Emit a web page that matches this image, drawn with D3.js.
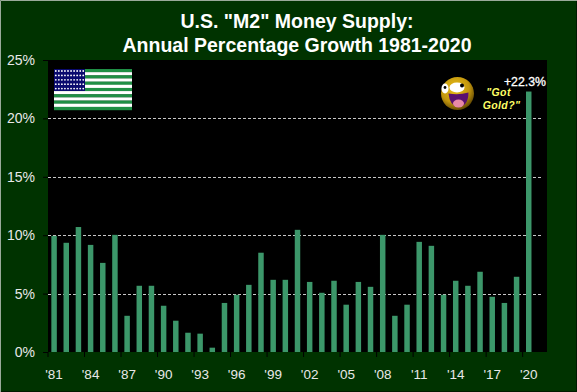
<!DOCTYPE html>
<html>
<head>
<meta charset="utf-8">
<script src="https://cdn.jsdelivr.net/npm/d3@7"></script>
<style>
html, body { margin: 0; padding: 0; background: #003300; }
svg { display: block; }
text { font-family: "Liberation Sans", Arial, sans-serif; }
</style>
</head>
<body>
<div id="chart"></div>
<script>
// The data
const titleLines = ['U.S. "M2" Money Supply:', 'Annual Percentage Growth 1981-2020'];
const years = d3.range(1981, 2022); // one empty slot after 2020, as in the original
const growth = [9.94, 9.35, 10.7, 9.17, 7.63, 10.03, 3.1, 5.67, 5.67, 3.96,
    2.68, 1.65, 1.57, 0.37, 4.2, 4.9, 5.75, 8.5, 6.18, 6.18,
    10.46, 6.0, 5.07, 6.1, 4.05, 6.0, 5.58, 10.03, 3.1, 4.05,
    9.43, 9.09, 4.9, 6.1, 5.67, 6.87, 4.73, 4.2, 6.44, 22.3];
const yTicks = [0, 5, 10, 15, 20, 25];
const xTickYears = d3.range(1981, 2021, 3);

// THE CHART
const width = 577, height = 392;
const margin = { top: 60, right: 30, bottom: 40, left: 48 };

const svg = d3.select("#chart").append("svg")
    .attr("width", width)
    .attr("height", height);

// background and outer frame, light on top/left and dark on bottom/right
svg.append("rect")
    .attr("width", width).attr("height", height)
    .attr("fill", "#003300");
svg.append("path")
    .attr("d", "M0.5," + height + "V0.5H" + width)
    .attr("fill", "none")
    .attr("stroke", "#9aaa9a");
svg.append("path")
    .attr("d", "M1," + (height - 0.5) + "H" + (width - 0.5) + "V1")
    .attr("fill", "none")
    .attr("stroke", "#001a00");

// plot area
svg.append("rect")
    .attr("x", margin.left).attr("y", margin.top)
    .attr("width", width - margin.left - margin.right)
    .attr("height", height - margin.top - margin.bottom)
    .attr("fill", "#000000");

const x = d3.scaleBand()
    .domain(years)
    .range([margin.left, width - margin.right])
    .paddingInner(0.55)
    .paddingOuter(0.275);

const y = d3.scaleLinear()
    .domain([0, 25])
    .range([height - margin.bottom, margin.top]);

// gridlines
svg.append("g").selectAll("line")
    .data(yTicks.filter(d => d > 0 && d < 25))
    .join("line")
    .attr("x1", margin.left)
    .attr("x2", width - margin.right - 4)
    .attr("y1", d => Math.round(y(d)) + 0.5)
    .attr("y2", d => Math.round(y(d)) + 0.5)
    .attr("stroke", "#c8c8c8")
    .attr("stroke-dasharray", "3,2");

// bars
svg.append("g").selectAll("rect")
    .data(growth)
    .join("rect")
    .attr("x", (d, i) => x(years[i]))
    .attr("y", d => y(d))
    .attr("width", x.bandwidth())
    .attr("height", d => y(0) - y(d))
    .attr("fill", "#3c976a");

// y axis
const yAxis = svg.append("g")
    .attr("transform", "translate(" + margin.left + ",0)")
    .call(d3.axisLeft(y).tickValues(yTicks).tickFormat(d => d + "%").tickSize(5).tickPadding(8));
yAxis.select(".domain").remove();
yAxis.selectAll("line").attr("stroke", "#000000");
yAxis.selectAll("text")
    .attr("fill", "#e8e8e8")
    .style("font-size", "14px");

// x axis, ticks sit on the left edge of each third year slot
const step = x.step();
const xAxis = svg.append("g")
    .attr("transform", "translate(0," + y(0) + ")");
xAxis.selectAll("line")
    .data(xTickYears)
    .join("line")
    .attr("x1", d => x(d) + x.bandwidth() / 2 - step / 2)
    .attr("x2", d => x(d) + x.bandwidth() / 2 - step / 2)
    .attr("y1", 0)
    .attr("y2", 5)
    .attr("stroke", "#000000");
xAxis.selectAll("text")
    .data(xTickYears)
    .join("text")
    .attr("x", d => x(d) + x.bandwidth() / 2)
    .attr("y", 27)
    .attr("text-anchor", "middle")
    .attr("fill", "#e8e8e8")
    .style("font-size", "13.5px")
    .text(d => "'" + String(d).slice(2));

// title
svg.append("g").selectAll("text")
    .data(titleLines)
    .join("text")
    .attr("x", 297)
    .attr("y", (d, i) => 28 + i * 24)
    .attr("text-anchor", "middle")
    .attr("fill", "#ffffff")
    .attr("font-weight", "bold")
    .style("font-size", "19.5px")
    .text(d => d);

// flag
const flag = svg.append("g").attr("transform", "translate(54,69)");
flag.selectAll("rect.stripe")
    .data(d3.range(13))
    .join("rect")
    .attr("class", "stripe")
    .attr("x", 0)
    .attr("y", d => d * 41 / 13)
    .attr("width", 78)
    .attr("height", 41 / 13 + 0.2)
    .attr("fill", d => d % 2 ? "#ffffff" : "#1f8f45");
flag.append("rect")
    .attr("width", 31).attr("height", 22)
    .attr("fill", "#0a0a6e");
flag.selectAll("circle")
    .data(d3.range(50))
    .join("circle")
    .attr("cx", d => 1.8 + (d % 10) * 3.05)
    .attr("cy", d => 2 + Math.floor(d / 10) * 4.4)
    .attr("r", 0.9)
    .attr("fill", "#ffffff");

// smiley
const smile = svg.append("g").attr("transform", "translate(457.5,93.5)");
const grad = svg.append("defs").append("radialGradient")
    .attr("id", "ball").attr("cx", "42%").attr("cy", "35%").attr("r", "72%");
grad.append("stop").attr("offset", "0%").attr("stop-color", "#eabf18");
grad.append("stop").attr("offset", "60%").attr("stop-color", "#c2960e");
grad.append("stop").attr("offset", "100%").attr("stop-color", "#4a3400");
smile.append("circle").attr("r", 16.5).attr("fill", "url(#ball)");
smile.append("ellipse").attr("cx", -12.5).attr("cy", -5).attr("rx", 3.5).attr("ry", 5).attr("fill", "#ffffff");
smile.append("ellipse").attr("cx", -0.5).attr("cy", -6).attr("rx", 7.5).attr("ry", 5).attr("fill", "#ffffff");
smile.append("circle").attr("cx", -12.5).attr("cy", -6).attr("r", 1.4).attr("fill", "#000000");
smile.append("circle").attr("cx", 4.5).attr("cy", -8).attr("r", 2).attr("fill", "#000000");
smile.append("path")
    .attr("d", "M-9,0 Q1,2 11,-1 Q11,12 1,14 Q-8,12 -9,0 Z")
    .attr("fill", "#5a1070");
smile.append("ellipse").attr("cx", 1).attr("cy", 10).attr("rx", 5.5).attr("ry", 4).attr("fill", "#e88aa8");

// annotations
svg.append("text")
    .attr("x", 546).attr("y", 86)
    .attr("text-anchor", "end")
    .attr("fill", "#ffffff")
    .attr("stroke", "#ffffff")
    .attr("stroke-width", 0.3)
    .style("font-size", "12.3px")
    .text("+22.3%");
svg.append("g").selectAll("text")
    .data(['"Got', 'Gold?"'])
    .join("text")
    .attr("x", (d, i) => i ? 501.5 : 498.5)
    .attr("y", (d, i) => 96 + i * 13)
    .attr("text-anchor", "middle")
    .attr("fill", "#ffff66")
    .attr("font-weight", "bold")
    .attr("font-style", "italic")
    .style("font-size", "10.5px")
    .style("letter-spacing", "0.4px")
    .text(d => d);
</script>
</body>
</html>
